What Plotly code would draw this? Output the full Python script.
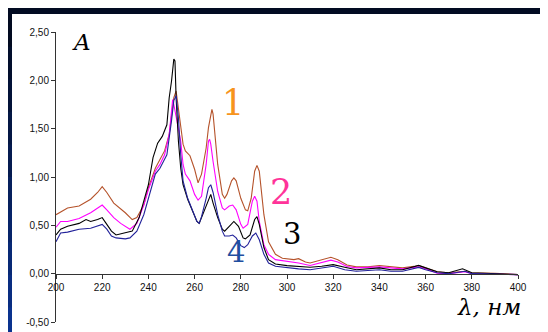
import plotly.graph_objects as go

# Wavelength (nm) and absorbance for the four spectra
wl1 = [200,205,210,215,218,220,222,225,230,233,235,238,240,243,245,247,249,250,251,252,253,254,255,256,258,260,261.5,263,265,266,267,267.5,268,269,270,272,273,274,276,277,278,280,282,283,284.5,286,287,288,289,290,292,295,298,300,303,305,308,310,315,319,322,326,330,335,340,345,350,355,357,360,365,370,375,377,380,390,400]
a1 = [0.61,0.68,0.70,0.77,0.84,0.90,0.84,0.73,0.63,0.56,0.58,0.71,0.89,1.09,1.18,1.27,1.44,1.65,1.82,1.89,1.72,1.51,1.34,1.27,1.22,1.08,0.94,1.03,1.30,1.51,1.66,1.70,1.65,1.41,1.13,0.82,0.78,0.82,0.96,0.99,0.96,0.78,0.66,0.65,0.78,1.06,1.12,1.06,0.85,0.61,0.33,0.20,0.16,0.155,0.145,0.155,0.12,0.11,0.145,0.17,0.145,0.09,0.07,0.07,0.085,0.07,0.06,0.075,0.085,0.06,0.02,0.01,0.02,0.025,0.01,0.005,-0.01]

wl2 = [200,202,205,210,215,218,220,222,225,228,232,235,238,240,243,245,247,249,250,250.5,251,252,253,254,255,256,258,260,261.5,263,265,266,266.5,267,268,270,272,273,275,276.5,278,280,281,283,285,286,287,288,290,292,295,300,305,310,315,319,322,326,330,340,345,350,357,360,365,370,377,380,400]
a2 = [0.48,0.54,0.54,0.57,0.63,0.68,0.71,0.66,0.58,0.52,0.46,0.52,0.71,0.87,1.06,1.13,1.23,1.44,1.72,1.80,1.75,1.61,1.47,1.37,1.13,1.03,0.96,0.82,0.76,0.80,1.13,1.37,1.39,1.34,1.16,0.85,0.68,0.66,0.70,0.71,0.66,0.51,0.47,0.51,0.75,0.80,0.75,0.54,0.30,0.20,0.145,0.13,0.11,0.085,0.12,0.14,0.12,0.075,0.06,0.07,0.06,0.05,0.07,0.05,0.005,0.0,0.02,0.0,-0.01]

wl3 = [200,202,205,210,213,215,218,220,222,224,226,230,233,236,238,240,242,244,246,248,249,250,251,251.5,252,253,254,255,257,259,261,262,263,265,266,267,268,270,272,273,275,277,279,281,282,284,286,287,288,290,292,295,300,305,310,315,320,325,330,340,345,350,357,360,365,370,376,380,400]
a3 = [0.40,0.46,0.49,0.52,0.56,0.54,0.56,0.58,0.51,0.44,0.40,0.42,0.44,0.58,0.75,0.92,1.20,1.35,1.42,1.54,1.82,1.99,2.22,2.20,1.82,1.37,1.09,0.92,0.77,0.65,0.54,0.52,0.58,0.70,0.78,0.82,0.73,0.58,0.46,0.44,0.49,0.54,0.49,0.37,0.36,0.40,0.56,0.59,0.51,0.27,0.145,0.10,0.083,0.076,0.066,0.076,0.093,0.066,0.04,0.06,0.04,0.04,0.085,0.06,0.02,0.01,0.05,0.01,-0.01]

wl4 = [200,202,205,210,215,218,220,222,224,226,230,232,235,238,240,243,245,248,250,251,252,253,254,255,257,259,261,262,263,265,266,267,268,270,272,273,275,276.5,278,280,281.5,283,285,286.5,288,290,292,295,300,305,310,315,320,325,330,340,345,350,357,360,365,370,377,380,400]
a4 = [0.33,0.42,0.43,0.46,0.47,0.49,0.51,0.46,0.39,0.37,0.36,0.37,0.44,0.61,0.78,1.03,1.09,1.23,1.58,1.79,1.84,1.61,1.23,0.96,0.78,0.66,0.54,0.52,0.59,0.78,0.89,0.92,0.84,0.61,0.44,0.39,0.39,0.40,0.37,0.29,0.27,0.30,0.39,0.42,0.35,0.20,0.11,0.076,0.06,0.05,0.04,0.06,0.076,0.04,0.025,0.04,0.025,0.025,0.065,0.04,0.01,0.0,0.025,0.0,-0.01]

x_ticks = [200,220,240,260,280,300,320,340,360,380,400]
y_ticks = [-0.5,0.0,0.5,1.0,1.5,2.0,2.5]
y_labels = ["-0,50","0,00","0,50","1,00","1,50","2,00","2,50"]

W, H = 548, 332
ml, mr, mt, mb = 48, 38, 24, 18

fig = go.Figure()
for wl, a, col in [(wl1, a1, "#b5532b"), (wl2, a2, "#ff00ff"), (wl3, a3, "#000000"), (wl4, a4, "#22229a")]:
    fig.add_trace(go.Scatter(x=wl, y=a, mode="lines", line=dict(color=col, width=1.1), showlegend=False, hoverinfo="skip"))

# white panel on the dark frame (paper coordinates)
def px_x(p): return (p - ml) / (W - ml - mr)
def px_y(p): return ((H - mb) - p) / (H - mt - mb)

shapes = [dict(type="rect", xref="paper", yref="paper", x0=px_x(4), x1=px_x(W + 2), y0=px_y(H + 2), y1=px_y(6),
               fillcolor="white", line=dict(width=0), layer="below")]
# left-edge gradient of the frame
n = 10
for i in range(n):
    t = i / (n - 1)
    r = int(2 + 8 * t); g = int(10 + 40 * t); b = int(32 + 110 * t)
    shapes.append(dict(type="rect", xref="paper", yref="paper", x0=px_x(-2), x1=px_x(4),
                       y0=px_y(6 + (H - 6) * (i + 1) / n + 1), y1=px_y(6 + (H - 6) * i / n),
                       fillcolor=f"rgb({r},{g},{b})", line=dict(width=0), layer="below"))

serif = "DejaVu Serif"
ann = [
    dict(x=211.0, y=2.40, text="<i>A</i>", font=dict(family=serif, size=23, color="black")),
    dict(x=276.6, y=1.77, text="1", font=dict(family=serif, size=35, color="#f7941d")),
    dict(x=297.3, y=0.85, text="2", font=dict(family=serif, size=35, color="#ff3399")),
    dict(x=302.3, y=0.41, text="3", font=dict(family=serif, size=29, color="black")),
    dict(x=278.0, y=0.22, text="4", font=dict(family=serif, size=29, color="#1f4ea0")),
    dict(x=387.5, y=-0.34, text="<i>λ, нм</i>", font=dict(family=serif, size=23, color="black")),
]
for a_ in ann:
    a_.update(xref="x", yref="y", showarrow=False)

fig.update_layout(
    width=W, height=H,
    margin=dict(l=ml, r=mr, t=mt, b=mb),
    paper_bgcolor="#020b22", plot_bgcolor="rgba(0,0,0,0)",
    shapes=shapes, annotations=ann,
    xaxis=dict(range=[200, 400], tickvals=x_ticks, ticks="outside", ticklen=4, tickcolor="#333",
               showline=True, linecolor="#333", linewidth=1, showgrid=False, zeroline=False,
               anchor="free", position=1/6,
               tickfont=dict(family="Arial", size=10, color="#111")),
    yaxis=dict(range=[-0.5, 2.5], tickvals=y_ticks, ticktext=y_labels, ticks="outside", ticklen=4, tickcolor="#333",
               showline=True, linecolor="#333", linewidth=1, showgrid=False, zeroline=False,
               tickfont=dict(family="Arial", size=10, color="#111")),
)

fig.write_html("out.html")
